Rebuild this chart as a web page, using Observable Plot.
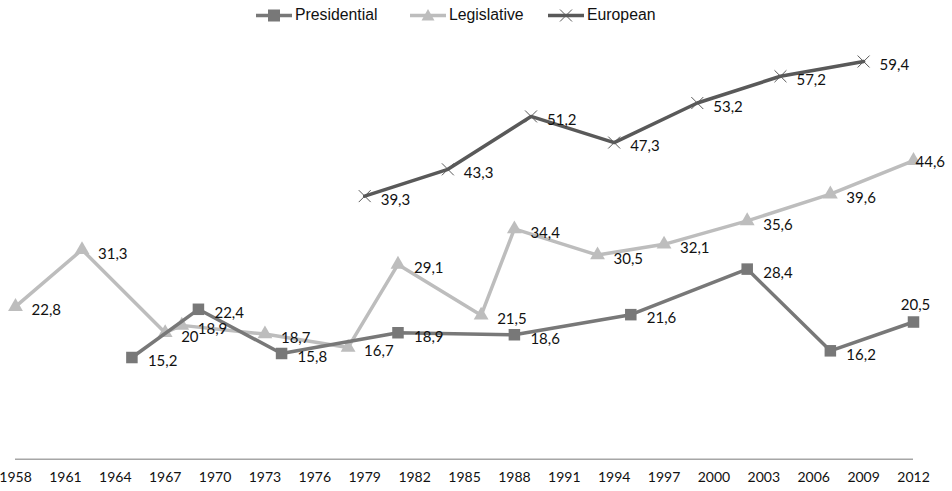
<!DOCTYPE html>
<html><head><meta charset="utf-8">
<script src="https://cdn.jsdelivr.net/npm/d3@7"></script>
<script src="https://cdn.jsdelivr.net/npm/@observablehq/plot@0.6"></script>
<style>
body{margin:0;background:#fff;width:952px;height:491px;overflow:hidden;}
#legend{position:relative;height:30px;font-family:"Liberation Sans",Arial,sans-serif;font-size:15.8px;color:#111;}
.item{position:absolute;top:0;height:30px;display:flex;align-items:center;}
.item svg{margin-right:3px;}
</style></head><body>
<div id="legend"></div>
<div id="chart"></div>
<script>
// Data
const seriesNames = ["Presidential", "Legislative", "European"];
const presYears = [1965, 1969, 1974, 1981, 1988, 1995, 2002, 2007, 2012];
const presValues = [15.2, 22.4, 15.8, 18.9, 18.6, 21.6, 28.4, 16.2, 20.5];
const legYears = [1958, 1962, 1967, 1968, 1973, 1978, 1981, 1986, 1988, 1993, 1997, 2002, 2007, 2012];
const legValues = [22.8, 31.3, 18.9, 20, 18.7, 16.7, 29.1, 21.5, 34.4, 30.5, 32.1, 35.6, 39.6, 44.6];
// data labels as printed on the original chart (1967/1968 labels appear swapped there)
const legLabels = ["22,8", "31,3", "20", "18,9", "18,7", "16,7", "29,1", "21,5", "34,4", "30,5", "32,1", "35,6", "39,6", "44,6"];
const euroYears = [1979, 1984, 1989, 1994, 1999, 2004, 2009];
const euroValues = [39.3, 43.3, 51.2, 47.3, 53.2, 57.2, 59.4];
const tickYears = [1958, 1961, 1964, 1967, 1970, 1973, 1976, 1979, 1982, 1985, 1988, 1991, 1994, 1997, 2000, 2003, 2006, 2009, 2012];

const colors = {Presidential: "#787878", Legislative: "#bdbdbd", European: "#595959"};

const fmt = v => String(v).replace(".", ",");
const build = (years, values, name, labels) => years.map((y, i) => ({
  year: y, value: values[i], series: name, last: i === years.length - 1,
  label: labels ? labels[i] : fmt(values[i])
}));
const pres = build(presYears, presValues, "Presidential");
const leg = build(legYears, legValues, "Legislative", legLabels);
const euro = build(euroYears, euroValues, "European");

// Legend
const legend = document.getElementById("legend");
const legendPos = {Presidential: 256, Legislative: 410, European: 548};
const sym = {
  Presidential: `<rect x="12" y="1.5" width="12" height="12" fill="${colors.Presidential}"/>`,
  Legislative: `<path d="M18,1 L24.5,12.5 L11.5,12.5 Z" fill="${colors.Legislative}"/>`,
  European: `<path d="M12,1.5 L24,13.5 M24,1.5 L12,13.5" stroke="${colors.European}" stroke-width="1"/>`
};
for (const name of seriesNames) {
  const div = document.createElement("div");
  div.className = "item";
  div.style.left = legendPos[name] + "px";
  div.innerHTML = `<svg width="36" height="15"><line x1="0" x2="36" y1="7.5" y2="7.5" stroke="${colors[name]}" stroke-width="3.5"/>${sym[name]}</svg><span>${name}</span>`;
  legend.appendChild(div);
}

const labelFont = {fontFamily: "Lato, sans-serif", fontSize: 15, fill: "#111"};

const normalLabels = (data) => Plot.text(data.filter(d => !d.last), {
  x: "year", y: "value", text: "label", textAnchor: "start", dx: 16, dy: 4, ...labelFont
});

const chart = Plot.plot({
  width: 952,
  height: 461,
  marginLeft: 15,
  marginRight: 39,
  marginTop: 27,
  marginBottom: 32.2,
  x: {domain: [1958, 2012], axis: null},
  y: {domain: [0, 60], axis: null},
  style: {background: "white", fontFamily: "Lato, sans-serif", overflow: "visible"},
  marks: [
    Plot.ruleY([0], {stroke: "#a6a6a6", strokeWidth: 1.5}),
    Plot.text(tickYears, {x: d => d, y: 0, dy: 18, text: d => String(d), fontSize: 14, fill: "#111", fontFamily: "Lato, sans-serif"}),
    Plot.line(leg, {x: "year", y: "value", stroke: colors.Legislative, strokeWidth: 3.5}),
    Plot.dot(leg, {x: "year", y: "value", symbol: "triangle", r: 5.5, fill: colors.Legislative}),
    Plot.line(pres, {x: "year", y: "value", stroke: colors.Presidential, strokeWidth: 3.5}),
    Plot.dot(pres, {x: "year", y: "value", symbol: "square", r: 6.5, fill: colors.Presidential}),
    Plot.line(euro, {x: "year", y: "value", stroke: colors.European, strokeWidth: 3.5}),
    Plot.dot(euro, {x: "year", y: "value", symbol: "times", r: 5.5, stroke: colors.European, strokeWidth: 1}),
    normalLabels(pres),
    normalLabels(leg),
    normalLabels(euro),
    Plot.text(pres.filter(d => d.last), {x: "year", y: "value", text: "label", textAnchor: "middle", dx: 2, dy: -17, ...labelFont}),
    Plot.text(leg.filter(d => d.last), {x: "year", y: "value", text: "label", textAnchor: "start", dx: 2, dy: 2, ...labelFont}),
    Plot.text(euro.filter(d => d.last), {x: "year", y: "value", text: "label", textAnchor: "start", dx: 16, dy: 4, ...labelFont})
  ]
});
document.getElementById("chart").appendChild(chart);
</script>
</body></html>
